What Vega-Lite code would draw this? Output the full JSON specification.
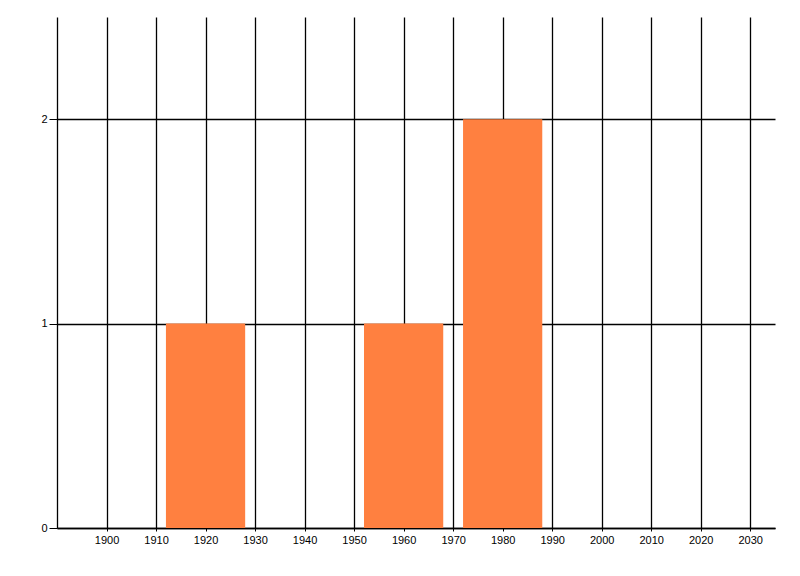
{
  "$schema": "https://vega.github.io/schema/vega-lite/v6.json",
  "autosize": "none",
  "width": 718,
  "height": 511,
  "padding": {"left": 57, "top": 17, "right": 25, "bottom": 48},
  "background": "white",
  "config": {
    "view": {"stroke": null},
    "axis": {
      "labelFont": "Liberation Sans",
      "labelFontSize": 11,
      "labelColor": "#000000",
      "domainColor": "#000000",
      "domainWidth": 1.3,
      "tickColor": "#000000",
      "gridColor": "#000000",
      "gridOpacity": 1,
      "gridWidth": 1.3,
      "title": null
    }
  },
  "data": {
    "values": [
      {"from": 1912, "to": 1928, "count": 1},
      {"from": 1952, "to": 1968, "count": 1},
      {"from": 1972, "to": 1988, "count": 2}
    ]
  },
  "mark": {"type": "bar", "color": "#FF8040", "opacity": 1},
  "encoding": {
    "x": {
      "field": "from",
      "type": "quantitative",
      "scale": {"domain": [1890, 2035], "nice": false, "zero": false, "padding": 0},
      "axis": {
        "values": [1900, 1910, 1920, 1930, 1940, 1950, 1960, 1970, 1980, 1990, 2000, 2010, 2020, 2030],
        "format": "d",
        "grid": true,
        "tickSize": 3,
        "labelPadding": 3
      }
    },
    "x2": {"field": "to"},
    "y": {
      "field": "count",
      "type": "quantitative",
      "scale": {"domain": [0, 2.5], "nice": false, "padding": 0},
      "axis": {
        "values": [0, 1, 2],
        "format": "d",
        "grid": true,
        "tickSize": 8,
        "labelPadding": 2
      }
    },
    "y2": {"datum": 0}
  }
}
